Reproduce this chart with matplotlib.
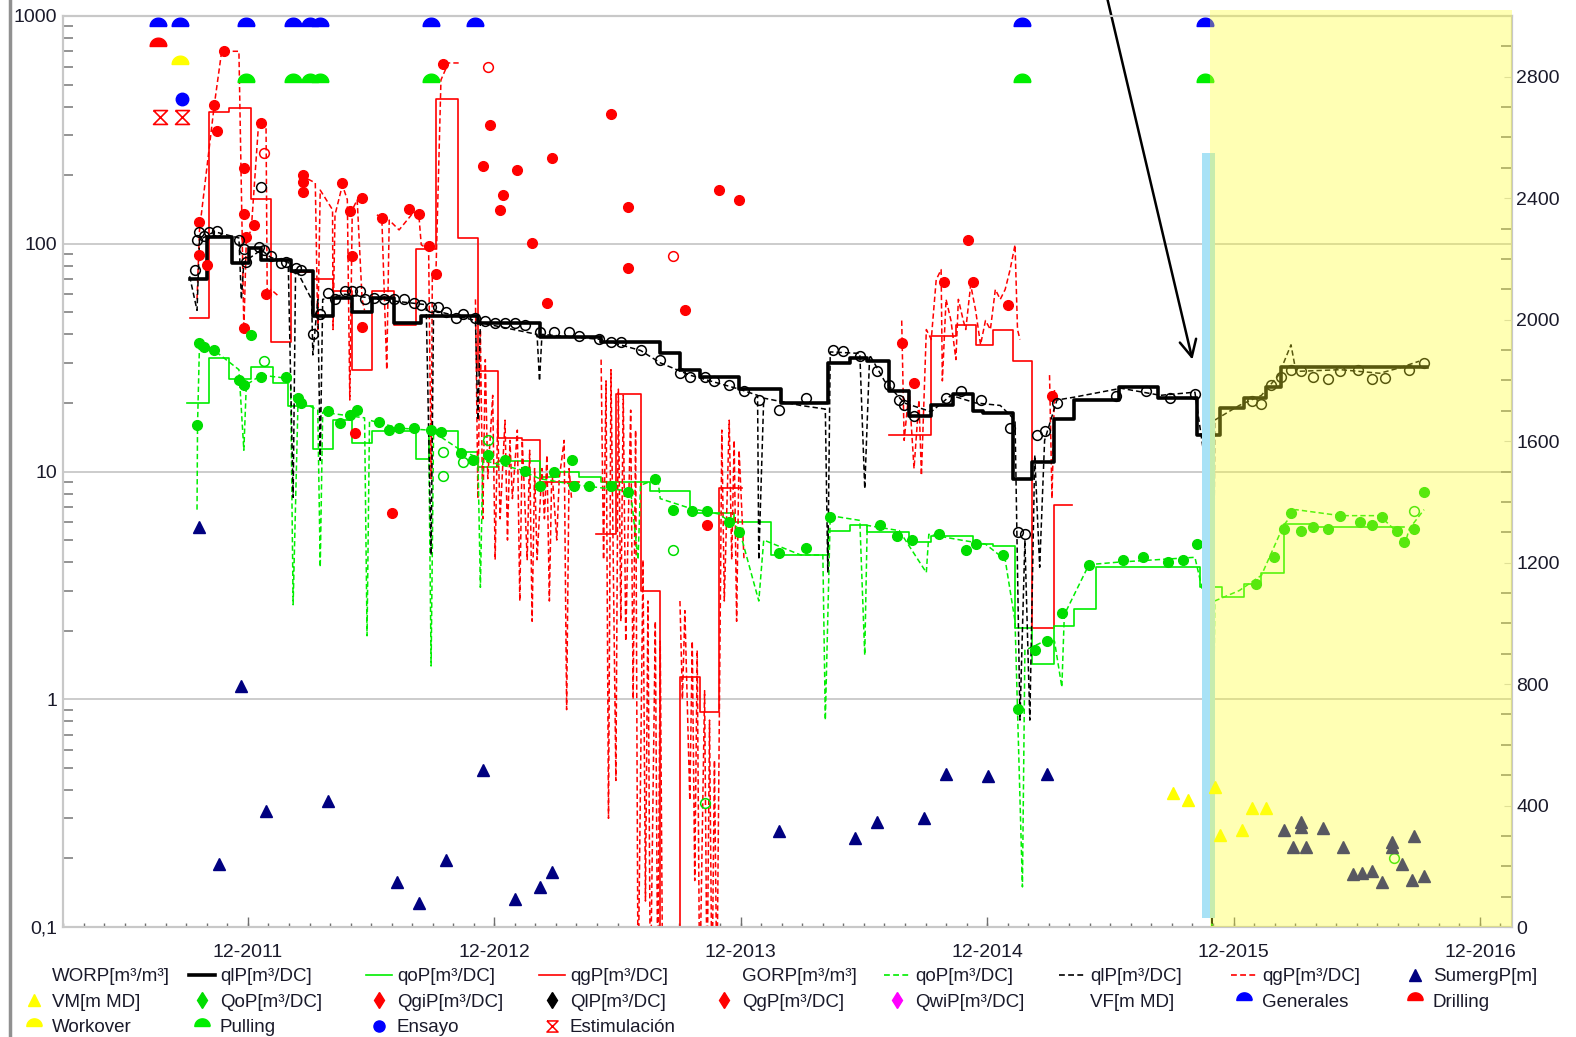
"""Production history plot: rates (log, left) and submergence (right)."""

import numpy as np
import matplotlib
matplotlib.use("Agg")
import matplotlib.pyplot as plt
from matplotlib.path import Path
from matplotlib.lines import Line2D
from matplotlib.patches import Rectangle
from matplotlib.ticker import FixedLocator, LogLocator, MultipleLocator, NullFormatter
import matplotlib.transforms as mtransforms

plt.rcParams["font.family"] = ["Liberation Sans", "DejaVu Sans"]
nan = np.nan

# ---- data (time in decimal years) ----
# liquid rate, monthly step (solid, thick)
ql_step_t = [2011.68, 2011.75, 2011.85, 2011.92, 2011.97, 2012.09, 2012.18, 2012.26, 2012.34, 2012.42,
             2012.51, 2012.62, 2012.85, 2013.10, 2013.35, 2013.59, 2013.67, 2013.75, 2013.91, 2014.08,
             2014.27, 2014.36, 2014.43, 2014.52, 2014.60, 2014.69, 2014.78, 2014.86, 2014.90, 2015.02,
             2015.10, 2015.19, 2015.27, 2015.45, 2015.61, 2015.77, 2015.86, 2015.96, 2016.05, 2016.11,
             2016.70]
ql_step_v = [70, 107, 82, 96, 85, 76, 48, 58, 50, 58,
             45, 48, 45, 39, 37, 33, 28, 26, 23, 20,
             30, 31.5, 30.5, 22.5, 17.5, 19.6, 22, 18.5, 18, 9.3,
             11, 17, 20.5, 23.5, 21, 14.4, 19, 21, 23.5, 28.7,
             28.7]

# oil rate, monthly step
qo_step_t = [2011.67, 2011.76, 2011.84, 2011.93, 2012.02, 2012.08, 2012.18, 2012.26, 2012.34, 2012.42,
             2012.60, 2012.65, 2012.77, 2012.85, 2012.93, 2013.10, 2013.18, 2013.26, 2013.35, 2013.55,
             2013.71, 2013.89, 2014.04, 2014.27, 2014.36, 2014.43, 2014.60, 2014.69, 2014.86, 2014.94,
             2015.03, 2015.10, 2015.19, 2015.27, 2015.36, 2015.78, 2015.87, 2015.96, 2016.03, 2016.12,
             2016.24, 2016.61]
qo_step_v = [20, 31.5, 25.6, 28.8, 24.5, 19.3, 12.5, 16.8, 13.4, 15.1,
             11.4, 15.1, 12.2, 10.5, 11.1, 9.5, 10, 9.5, 9.0, 8.2,
             6.6, 6.0, 4.3, 5.5, 5.8, 5.4, 4.9, 5.2, 4.8, 4.7,
             2.05, 1.43, 2.1, 2.5, 3.8, 3.1, 2.8, 3.2, 3.6, 5.9,
             5.7, 5.7]

# gas rate, monthly step
qg_step_t = [2011.68, 2011.76, 2011.84, 2011.93, 2012.01, 2012.09, 2012.18, 2012.26, 2012.34, 2012.42,
             2012.51, 2012.60, 2012.68, 2012.77, 2012.85, 2012.93, 2013.03, 2013.10, 2013.26, 2013.33,
             2013.41, 2013.51, 2013.59, 2013.67, 2013.75, 2013.83, 2013.92, 2014.52, 2014.69, 2014.79,
             2014.87, 2014.94, 2015.02, 2015.10, 2015.19, 2015.26]
qg_step_v = [47, 380, 395, 157, 37, 75, 70, 62, 28, 62,
             44, 95, 430, 106, 27.5, 14, 13.7, 9, nan, 5.3,
             22, 3, 0.05, 1.25, 0.88, 8.5, nan, 14.5, 39.5, 44,
             36, 42, 30.5, 2.05, 7.1, nan]

# daily liquid rate (dashed)
ql_daily = [(2011.68, 72), (2011.71, 51), (2011.72, 104), (2011.78, 113), (2011.88, 106), (2011.89, 57),
            (2011.90, 83), (2011.97, 94), (2012.01, 87), (2012.08, 83), (2012.10, 7.7), (2012.11, 78),
            (2012.175, 57), (2012.18, 32.5), (2012.20, 57), (2012.21, 11.2), (2012.22, 57), (2012.31, 60),
            (2012.45, 57), (2012.64, 54), (2012.66, 4.3), (2012.67, 51), (2012.84, 46), (2012.85, 16.8),
            (2012.86, 45), (2013.09, 40), (2013.10, 25), (2013.11, 40), (2013.35, 38), (2013.51, 34),
            (2013.59, 30), (2013.71, 26.5), (2013.91, 23), (2013.985, 21.6), (2013.99, 4.1), (2014.01, 21),
            (2014.16, 19.5), (2014.26, 18.8), (2014.27, 3.6), (2014.28, 33.5), (2014.40, 33), (2014.42, 8.4),
            (2014.44, 32.5), (2014.50, 25), (2014.58, 20), (2014.69, 18.3), (2014.77, 21.6), (2014.87, 20),
            (2014.97, 19.5), (2015.03, 16.8), (2015.05, 0.81), (2015.07, 5), (2015.09, 0.81), (2015.11, 11.8),
            (2015.13, 3.8), (2015.15, 13.7), (2015.20, 20.6), (2015.27, 21.2), (2015.46, 23.2), (2015.62, 21.6),
            (2015.76, 22.3), (2015.80, 11.2), (2015.81, 20.6), (2015.83, 0.09), (2015.84, 16.8), (2015.94, 19.5),
            (2016.03, 21.6), (2016.10, 26.5), (2016.15, 36), (2016.17, 27.5), (2016.35, 28), (2016.51, 27),
            (2016.59, 28.5), (2016.67, 30.5)]

# daily oil rate (dashed)
qo_daily = [(2011.71, 6.8), (2011.712, 16), (2011.72, 36.5), (2011.78, 34), (2011.88, 28), (2011.90, 12.4),
            (2011.91, 24), (2011.97, 26.5), (2012.07, 25.7), (2012.09, 24), (2012.10, 2.6), (2012.12, 20.6),
            (2012.20, 18.6), (2012.21, 3.8), (2012.22, 18.2), (2012.39, 17.2), (2012.40, 1.9), (2012.41, 16.8),
            (2012.53, 15.5), (2012.65, 15.2), (2012.66, 1.4), (2012.67, 14.9), (2012.78, 12.4), (2012.85, 11.5),
            (2012.86, 3.1), (2012.87, 11.2), (2013.02, 10.2), (2013.10, 9.3), (2013.26, 8.7), (2013.47, 8.2),
            (2013.50, 4.1), (2013.51, 8.7), (2013.58, 9.3), (2013.59, 7.6), (2013.71, 6.9), (2013.83, 6.5),
            (2013.91, 5.6), (2013.99, 2.7), (2014.01, 5), (2014.16, 4.3), (2014.25, 4.3), (2014.26, 0.81),
            (2014.28, 6.4), (2014.40, 6.1), (2014.42, 1.56), (2014.43, 5.8), (2014.56, 5.5), (2014.67, 3.6),
            (2014.68, 5.3), (2014.81, 5.0), (2014.91, 4.8), (2014.99, 4.1), (2015.03, 2.2), (2015.06, 0.15),
            (2015.07, 1.64), (2015.15, 1.8), (2015.19, 1.8), (2015.22, 1.13), (2015.23, 2.35), (2015.33, 3.9),
            (2015.45, 4.0), (2015.76, 4.2), (2015.81, 2.45), (2015.82, 3.0), (2015.83, 0.09), (2015.84, 2.7),
            (2015.94, 3.0), (2016.03, 3.5), (2016.12, 5.8), (2016.17, 6.8), (2016.35, 6.4), (2016.51, 6.4),
            (2016.59, 5.3), (2016.61, 4.7), (2016.63, 5.6), (2016.69, 6.8)]

# daily gas rate (dashed), nan = gap
qg_daily = [(2011.71, 57), (2011.72, 115), (2011.78, 406), (2011.81, 700), (2011.88, 700), (2011.90, 42),
            (2011.91, 104), (2011.93, 115), (2011.96, 339), (2011.99, 335), (2011.995, 57), (2012.01, 63),
            (2012.04, 59), (2012.06, nan),
            (2012.13, 200), (2012.19, 185), (2012.20, 42), (2012.21, 172), (2012.26, 141), (2012.262, 42),
            (2012.27, 134), (2012.30, 181), (2012.32, 156), (2012.33, 20.6), (2012.34, 141), (2012.36, 156),
            (2012.38, 57), (2012.39, 51), (2012.41, nan),
            (2012.44, 134), (2012.46, 130), (2012.48, 28), (2012.49, 127), (2012.53, 115), (2012.59, 138),
            (2012.61, 135), (2012.62, 99), (2012.65, 94), (2012.66, 9.3), (2012.665, 73), (2012.68, 77),
            (2012.70, 524), (2012.73, 622), (2012.78, 622), (2012.80, nan),
            (2012.84, 57), (2012.85, 7.6), (2012.86, 42), (2012.87, 6.2), (2012.88, 31), (2012.89, 9.3),
            (2012.91, 21.6), (2012.92, 4.1), (2012.93, 16.8), (2012.94, 6.2), (2012.96, 16.8), (2012.97, 5.0),
            (2012.98, 13.7), (2012.99, 7.6), (2013.01, 15.2), (2013.02, 2.7), (2013.03, 13.7), (2013.05, 4.1),
            (2013.06, 12.4), (2013.07, 2.2), (2013.08, 10.3), (2013.09, 4.1), (2013.11, 10.3), (2013.12, 6.2),
            (2013.13, 11.8), (2013.14, 2.7), (2013.15, 10.3), (2013.17, 5.0), (2013.18, 9.3), (2013.20, 13.7),
            (2013.21, 0.9), (2013.22, 10.3), (2013.23, 7.6), (2013.25, nan),
            (2013.35, 31), (2013.36, 4.1), (2013.37, 25), (2013.38, 0.3), (2013.39, 28), (2013.41, 0.44),
            (2013.42, 23), (2013.43, 2.2), (2013.44, 21.6), (2013.45, 1.8), (2013.47, 18.6), (2013.48, 1.0),
            (2013.49, 15.2), (2013.50, 0.05), (2013.52, 4.1), (2013.53, 0.13), (2013.54, 2.7), (2013.55, 0.05),
            (2013.57, 2.2), (2013.58, 0.05), (2013.59, 1.8), (2013.60, 0.05), (2013.62, nan),
            (2013.67, 2.7), (2013.68, 1.0), (2013.69, 2.45), (2013.71, 0.36), (2013.72, 1.8), (2013.73, 0.16),
            (2013.74, 1.64), (2013.75, 0.05), (2013.77, 1.09), (2013.78, 0.05), (2013.79, 0.81), (2013.80, 0.05),
            (2013.81, 0.54), (2013.82, 0.05), (2013.84, 15.2), (2013.85, 2.7), (2013.87, 16.8), (2013.88, 4.1),
            (2013.89, 13.7), (2013.90, 2.2), (2013.91, 12.4), (2013.93, 4.1), (2013.95, nan),
            (2014.57, 46), (2014.58, 13.7), (2014.60, 22.8), (2014.62, 10.3), (2014.64, 20.6), (2014.65, 9.6),
            (2014.67, 42), (2014.69, 38), (2014.71, 69.5), (2014.73, 77), (2014.735, 25), (2014.75, 57),
            (2014.77, 46), (2014.79, 31), (2014.80, 57), (2014.82, 46), (2014.83, 42), (2014.85, 66),
            (2014.87, 51), (2014.89, 36), (2014.91, 46), (2014.93, 42), (2014.95, 63), (2014.97, 57),
            (2014.99, 63), (2015.01, 77), (2015.03, 99), (2015.04, 42), (2015.05, 38), (2015.06, nan),
            (2015.17, 26.5), (2015.18, 7.6), (2015.19, 22.8)]

# measured oil (filled green) and non-validated oil (open green)
qo_meas = [(2011.71, 16.0), (2011.72, 36.5), (2011.74, 35.2), (2011.78, 34.2), (2011.88, 25.2), (2011.90, 24),
           (2011.93, 39.7), (2011.97, 26.1), (2012.07, 26.1), (2012.12, 21.1), (2012.13, 19.9), (2012.24, 18.4),
           (2012.29, 16.3), (2012.33, 17.7), (2012.36, 18.6), (2012.45, 16.5), (2012.49, 15.2), (2012.53, 15.5),
           (2012.59, 15.5), (2012.66, 15.2), (2012.70, 14.9), (2012.78, 12.0), (2012.83, 11.2), (2012.89, 11.8),
           (2012.96, 11.2), (2013.04, 10.1), (2013.10, 8.6), (2013.16, 10), (2013.23, 11.2), (2013.24, 8.6),
           (2013.30, 8.6), (2013.39, 8.6), (2013.46, 8.1), (2013.57, 9.3), (2013.64, 6.8), (2013.72, 6.7),
           (2013.78, 6.7), (2013.87, 6.0), (2013.91, 5.4), (2014.07, 4.4), (2014.18, 4.6), (2014.28, 6.3),
           (2014.48, 5.8), (2014.55, 5.2), (2014.61, 5.0), (2014.72, 5.3), (2014.83, 4.5), (2014.87, 4.8),
           (2014.98, 4.3), (2015.04, 0.91), (2015.11, 1.64), (2015.16, 1.8), (2015.22, 2.4), (2015.33, 3.9),
           (2015.47, 4.1), (2015.55, 4.2), (2015.65, 4.0), (2015.71, 4.1), (2015.77, 4.8), (2016.01, 3.2),
           (2016.08, 4.2), (2016.12, 5.6), (2016.15, 6.6), (2016.19, 5.5), (2016.24, 5.7), (2016.30, 5.6),
           (2016.35, 6.4), (2016.43, 6.0), (2016.48, 5.8), (2016.52, 6.3), (2016.58, 5.5), (2016.61, 4.9),
           (2016.65, 5.6), (2016.69, 8.1)]
qo_open = [(2011.98, 30.5), (2012.71, 12.2), (2012.79, 11.0), (2012.71, 9.6), (2012.89, 13.7),
           (2013.64, 4.5), (2013.77, 0.35), (2016.57, 0.2), (2016.65, 6.7)]

# measured liquid (open black)
ql_meas = [(2011.71, 104), (2011.72, 113), (2011.74, 108), (2011.76, 113), (2011.79, 114), (2011.70, 77),
           (2011.88, 104), (2011.90, 95), (2011.91, 83), (2011.96, 97), (2011.98, 94), (2012.01, 88),
           (2012.05, 82), (2012.07, 83), (2012.11, 78), (2012.13, 77), (2011.97, 178), (2012.18, 40),
           (2012.21, 49), (2012.24, 61), (2012.27, 57), (2012.31, 62), (2012.34, 62), (2012.37, 62),
           (2012.39, 57), (2012.43, 58), (2012.47, 57), (2012.51, 57), (2012.55, 57), (2012.59, 55),
           (2012.62, 54), (2012.66, 53), (2012.69, 53), (2012.72, 50), (2012.76, 47), (2012.79, 49),
           (2012.84, 47), (2012.88, 46), (2012.92, 45), (2012.96, 45), (2013.00, 45), (2013.04, 44),
           (2013.10, 41), (2013.16, 41), (2013.22, 41), (2013.26, 39.5), (2013.34, 38), (2013.39, 37),
           (2013.43, 37), (2013.51, 34), (2013.59, 31), (2013.67, 27), (2013.71, 26), (2013.77, 26),
           (2013.81, 25), (2013.87, 24), (2013.93, 22.5), (2013.99, 20.6), (2014.07, 18.7), (2014.18, 21),
           (2014.29, 34), (2014.33, 33.7), (2014.40, 32), (2014.47, 27.5), (2014.52, 24), (2014.56, 20.7),
           (2014.58, 19.5), (2014.62, 17.6), (2014.75, 21), (2014.81, 22.6), (2014.89, 20.7), (2015.01, 15.5),
           (2015.04, 5.4), (2015.07, 5.3), (2015.12, 14.4), (2015.15, 15), (2015.20, 20), (2015.44, 21.4),
           (2015.56, 22.6), (2015.66, 21), (2015.76, 22), (2015.99, 20.3), (2016.03, 19.7), (2016.07, 24),
           (2016.11, 26), (2016.15, 28), (2016.19, 27.5), (2016.24, 26), (2016.30, 25.6), (2016.35, 27.5),
           (2016.42, 28), (2016.48, 25.5), (2016.53, 25.8), (2016.63, 28), (2016.69, 30)]

# measured gas (filled red) and open red
qg_meas = [(2011.82, 702), (2011.78, 406), (2011.79, 312), (2011.72, 125), (2011.72, 89), (2011.75, 81),
           (2011.90, 215), (2011.90, 135), (2011.91, 107), (2011.94, 121), (2011.97, 339), (2011.99, 60),
           (2011.90, 42.5), (2012.14, 200), (2012.14, 187), (2012.14, 168), (2012.30, 185), (2012.33, 139),
           (2012.34, 88), (2012.38, 159), (2012.38, 43), (2012.35, 14.7), (2012.46, 130), (2012.50, 6.6),
           (2012.57, 142), (2012.61, 135), (2012.65, 98), (2012.68, 74), (2012.71, 616), (2012.87, 220),
           (2012.90, 332), (2012.94, 140), (2012.95, 163), (2013.01, 210), (2013.07, 101), (2013.13, 55),
           (2013.15, 237), (2013.39, 370), (2013.46, 145), (2013.46, 78), (2013.69, 51), (2013.83, 173),
           (2013.91, 156), (2013.78, 5.8), (2014.57, 36.5), (2014.62, 24.5), (2014.74, 68), (2014.84, 104),
           (2014.86, 68), (2015.00, 54), (2015.18, 21.5)]
qg_open = [(2012.89, 600), (2013.64, 88), (2011.98, 250)]

# submergence [m], right axis
sumerg = [(2011.72, 1316), (2011.80, 207), (2011.89, 793), (2011.99, 382), (2012.24, 414), (2012.52, 148),
          (2012.61, 79), (2012.72, 220), (2012.87, 516), (2013.00, 92), (2013.10, 132), (2013.15, 181),
          (2014.07, 316), (2014.38, 293), (2014.47, 345), (2014.66, 359), (2014.75, 503), (2014.92, 497),
          (2015.16, 503), (2016.12, 319), (2016.16, 263), (2016.19, 345), (2016.19, 329), (2016.21, 263),
          (2016.28, 326), (2016.36, 263), (2016.40, 174), (2016.44, 178), (2016.48, 184), (2016.52, 148),
          (2016.56, 263), (2016.56, 280), (2016.60, 207), (2016.64, 155), (2016.65, 299), (2016.69, 168)]
# pump depth VM [m MD], right axis
vm = [(2015.67, 441), (2015.73, 418), (2015.84, 460), (2015.86, 303), (2015.95, 319), (2015.99, 391),
      (2016.05, 391)]

# well events
ev_generales = [2011.55, 2011.64, 2011.91, 2012.10, 2012.17, 2012.21, 2012.66, 2012.84, 2015.06, 2015.80]
ev_pulling = [2011.91, 2012.10, 2012.17, 2012.21, 2012.66, 2015.06, 2015.80]
ev_drilling = [2011.55]
ev_workover = [2011.64]
ev_ensayo = [2011.65]
ev_estimulacion = [2011.56, 2011.65]

forecast_start = 2015.82
pump_bar = (2015.79, 2015.84, 30, 2550)

year_ticks = [2011.917, 2012.917, 2013.917, 2014.917, 2015.917, 2016.917]
year_labels = ["12-2011", "12-2012", "12-2013", "12-2014", "12-2015", "12-2016"]

# ---- styling ----
GREEN = "#00ee00"
GREEN_DOT = "#00dd00"
RED = "#ff0000"
NAVY = "#000080"
DASH = (0, (3.5, 2))
FS = 13.5
FS_TICK = 14
TXT = "#1a1a2a"


def xy(pairs):
    a = np.array(pairs, dtype=float)
    return a[:, 0], a[:, 1]


theta = np.linspace(0, np.pi, 25)
dome = Path(np.vstack([np.column_stack([np.cos(theta), np.sin(theta)]), [[1, 0]]]))
hourglass = Path([(-1, 1), (1, 1), (-1, -1), (1, -1), (-1, 1)],
                 [Path.MOVETO, Path.LINETO, Path.LINETO, Path.LINETO, Path.LINETO])

fig = plt.figure(figsize=(15.76, 10.37), dpi=100)
ax = fig.add_axes([63 / 1576, 110 / 1037, 1449 / 1576, 911 / 1037])
ax2 = ax.twinx()

ax.set_yscale("log")
ax.set_ylim(0.1, 1000)
ax.set_xlim(2011.166, 2017.047)
ax2.set_ylim(0, 3000)

# step lines
ax.plot(qg_step_t, qg_step_v, color=RED, lw=1.2, drawstyle="steps-post", zorder=2)
ax.plot(qo_step_t, qo_step_v, color=GREEN, lw=1.2, drawstyle="steps-post", zorder=2)

# daily dashed lines
t, v = xy(qg_daily)
ax.plot(t, v, color=RED, lw=1.1, ls=DASH, zorder=2)
t, v = xy(qo_daily)
ax.plot(t, v, color=GREEN, lw=1.1, ls=DASH, zorder=2)
t, v = xy(ql_daily)
ax.plot(t, v, color="black", lw=1.1, ls=DASH, zorder=3)

ax.plot(ql_step_t, ql_step_v, color="black", lw=2.6, drawstyle="steps-post", zorder=4)

# measurements
t, v = xy(qg_meas)
ax.plot(t, v, "o", ms=7, color=RED, zorder=5)
t, v = xy(qg_open)
ax.plot(t, v, "o", ms=7, mfc="none", mec=RED, mew=1.1, zorder=5)
t, v = xy(qo_meas)
ax.plot(t, v, "o", ms=7, color=GREEN_DOT, zorder=5)
t, v = xy(qo_open)
ax.plot(t, v, "o", ms=7, mfc="none", mec=GREEN_DOT, mew=1.1, zorder=5)
t, v = xy(ql_meas)
ax.plot(t, v, "o", ms=7, mfc="none", mec="black", mew=1.1, zorder=5)

# events
ax.plot(ev_generales, [900] * len(ev_generales), ls="none", marker=dome, ms=12, color="#0000ff", zorder=6)
ax.plot(ev_drilling, [740] * len(ev_drilling), ls="none", marker=dome, ms=12, color=RED, zorder=6)
ax.plot(ev_workover, [615] * len(ev_workover), ls="none", marker=dome, ms=12, color="#ffff00", zorder=6)
ax.plot(ev_pulling, [512] * len(ev_pulling), ls="none", marker=dome, ms=12, color=GREEN, zorder=6)
ax.plot(ev_ensayo, [432] * len(ev_ensayo), ls="none", marker="o", ms=9, color="#0000ff", zorder=6)
ax.plot(ev_estimulacion, [360] * len(ev_estimulacion), ls="none", marker=hourglass, ms=10,
        mfc="none", mec=RED, mew=1.2, zorder=6)

# right axis: pump bar, submergence, VM
x0, x1, b0, b1 = pump_bar
ax2.bar((x0 + x1) / 2, b1 - b0, bottom=b0, width=x1 - x0, color="#a8e2f6", zorder=1)
t, v = xy(sumerg)
ax2.plot(t, v, "^", ms=9, color=NAVY, zorder=3)
t, v = xy(vm)
ax2.plot(t, v, "^", ms=9, color="#ffff00", zorder=3)

# forecast overlay
trans = mtransforms.blended_transform_factory(ax2.transData, ax2.transAxes)
ax2.add_patch(Rectangle((forecast_start, 0), ax.get_xlim()[1] - forecast_start, 1.0066,
                        transform=trans, facecolor=(1.0, 1.0, 0.16), alpha=0.35,
                        edgecolor="none", clip_on=False, zorder=8))

# arrow
ax.annotate("", xy=(2015.75, 31), xytext=(2015.40, 1250),
            arrowprops=dict(arrowstyle="->", color="black", lw=1.8, mutation_scale=30,
                            shrinkA=0, shrinkB=0),
            annotation_clip=False, zorder=20)

# axes styling
for a in (ax, ax2):
    for s in a.spines.values():
        s.set_color("#c8c8c8")
        s.set_linewidth(1.5)

ax.grid(axis="y", which="major", color="#c8c8c8", lw=1.3)
ax.set_yticks([0.1, 1, 10, 100, 1000])
ax.set_yticklabels(["0,1", "1", "10", "100", "1000"])
ax.yaxis.set_minor_locator(LogLocator(base=10, subs=np.arange(2, 10)))
ax.yaxis.set_minor_formatter(NullFormatter())
ax.tick_params(axis="y", which="major", length=0, pad=4, labelsize=FS_TICK, labelcolor=TXT)
ax.tick_params(axis="y", which="minor", direction="in", length=7, width=1.2, color="#808080")

ax.xaxis.set_major_locator(FixedLocator(year_ticks))
ax.set_xticklabels(year_labels)
ax.xaxis.set_minor_locator(MultipleLocator(1 / 12))
ax.tick_params(axis="x", which="major", direction="in", length=7, width=1.0, color="#707070",
               pad=12, labelsize=FS_TICK, labelcolor=TXT)
ax.tick_params(axis="x", which="minor", direction="in", length=3, width=1.0, color="#707070")

ax2.set_yticks(range(0, 3000, 400))
ax2.yaxis.set_minor_locator(MultipleLocator(100))
ax2.tick_params(axis="y", which="major", direction="in", length=6, color="#d0d0d0", pad=3,
                labelsize=FS_TICK, labelcolor=TXT)
ax2.tick_params(axis="y", which="minor", direction="in", length=8, width=1.2, color="#808080")

# frame line on the left edge
fig.add_artist(Line2D([10 / 1576, 10 / 1576], [0, 1], transform=fig.transFigure, color="#909090", lw=2.5))

# ---- legend (3 rows x 9 columns) ----
def h(**kw):
    return Line2D([], [], **kw)


none = h(ls="none")
legend_cols = [
    [("WORP[m³/m³]", none), ("VM[m MD]", h(ls="none", marker="^", ms=8, color="#ffff00")),
     ("Workover", h(ls="none", marker=dome, ms=11, color="#ffff00"))],
    [("qlP[m³/DC]", h(color="black", lw=2.6)), ("QoP[m³/DC]", h(ls="none", marker="d", ms=8, color=GREEN_DOT)),
     ("Pulling", h(ls="none", marker=dome, ms=11, color=GREEN))],
    [("qoP[m³/DC]", h(color=GREEN, lw=1.2)), ("QgiP[m³/DC]", h(ls="none", marker="d", ms=8, color=RED)),
     ("Ensayo", h(ls="none", marker="o", ms=8, color="#0000ff"))],
    [("qgP[m³/DC]", h(color=RED, lw=1.2)), ("QlP[m³/DC]", h(ls="none", marker="d", ms=8, color="black")),
     ("Estimulación", h(ls="none", marker=hourglass, ms=8, mfc="none", mec=RED, mew=1.1))],
    [("GORP[m³/m³]", none), ("QgP[m³/DC]", h(ls="none", marker="d", ms=8, color=RED))],
    [("qoP[m³/DC]", h(color=GREEN, lw=1.2, ls=DASH)), ("QwiP[m³/DC]", h(ls="none", marker="d", ms=8, color="#ff00ff"))],
    [("qlP[m³/DC]", h(color="black", lw=1.2, ls=DASH)), ("VF[m MD]", none)],
    [("qgP[m³/DC]", h(color=RED, lw=1.2, ls=DASH)), ("Generales", h(ls="none", marker=dome, ms=11, color="#0000ff"))],
    [("SumergP[m]", h(ls="none", marker="^", ms=8, color=NAVY)), ("Drilling", h(ls="none", marker=dome, ms=11, color=RED))],
]
col_x = [21, 189, 366, 539, 711, 884, 1059, 1231, 1402]
for cx, col in zip(col_x, legend_cols):
    fig.legend([c[1] for c in col], [c[0] for c in col], loc="upper left",
               bbox_to_anchor=(cx / 1576, 1 - 968 / 1037), frameon=False, borderpad=0,
               borderaxespad=0, handlelength=1.4, handletextpad=0.25, labelspacing=0.45,
               fontsize=FS, labelcolor=TXT)

fig.savefig("out.png", dpi=100)
